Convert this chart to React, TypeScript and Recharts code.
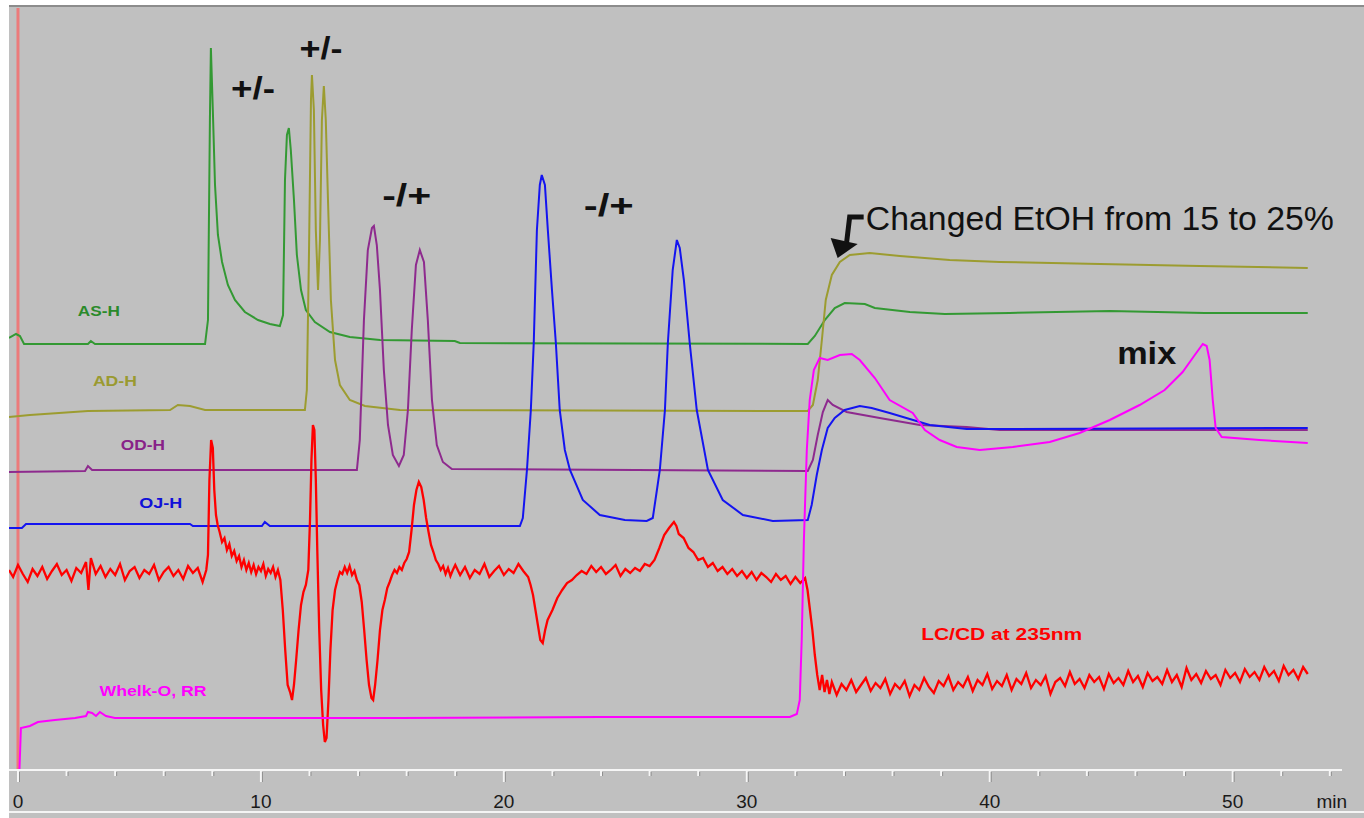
import React from 'react';
import { LineChart, Line, XAxis, YAxis, ReferenceLine, ReferenceDot } from 'recharts';

// time (min), detector response (arbitrary units)
const asH: [number, number][] = [
  [-0.37, 432], [-0.08, 436], [0.08, 434], [0.25, 426], [2.88, 426], [3.0, 429], [3.17, 426],
  [7.7, 426], [7.82, 450], [7.9, 650], [7.94, 722], [8.02, 660], [8.11, 585], [8.23, 535],
  [8.4, 508], [8.64, 485], [8.93, 470], [9.34, 458], [9.88, 450], [10.37, 446], [10.78, 444],
  [10.91, 455], [10.99, 590], [11.07, 635], [11.15, 642], [11.23, 620], [11.36, 570], [11.48, 515],
  [11.65, 480], [11.85, 460], [12.22, 448], [12.84, 438], [13.66, 433], [14.9, 430], [17.98, 429],
  [18.19, 427], [32.51, 426], [32.8, 434], [33.21, 450], [33.62, 462], [34.03, 467], [34.86, 466],
  [35.27, 462], [36.71, 458], [38.15, 456], [40.82, 457], [44.94, 459], [48.85, 457], [53.09, 457],
];

const adH: [number, number][] = [
  [-0.37, 353], [0.49, 355], [2.88, 359], [6.26, 360], [6.58, 365], [7.08, 364], [7.7, 360],
  [10.37, 360], [11.81, 360], [11.89, 380], [11.98, 520], [12.06, 670], [12.1, 695], [12.18, 660],
  [12.26, 540], [12.35, 480], [12.43, 530], [12.51, 650], [12.59, 684], [12.67, 650], [12.76, 570],
  [12.88, 470], [13.05, 410], [13.25, 385], [13.66, 370], [14.28, 364], [15.72, 360], [32.51, 359],
  [32.72, 365], [32.92, 390], [33.09, 430], [33.25, 470], [33.5, 495], [33.83, 508], [34.24, 515],
  [35.06, 517], [36.3, 514], [38.35, 510], [40.41, 508], [44.53, 506], [48.64, 504], [53.09, 502],
];

const odH: [number, number][] = [
  [-0.37, 298], [2.76, 299], [2.88, 304], [3.05, 300], [5.43, 300], [11.6, 300], [13.95, 300],
  [14.07, 330], [14.24, 450], [14.4, 520], [14.57, 542], [14.65, 544], [14.77, 525], [14.9, 480],
  [15.06, 400], [15.23, 345], [15.43, 315], [15.68, 304], [15.88, 315], [16.05, 360], [16.21, 440],
  [16.38, 505], [16.54, 520], [16.71, 508], [16.87, 450], [17.04, 370], [17.24, 325], [17.49, 308],
  [17.86, 301], [32.51, 299], [32.72, 310], [32.92, 335], [33.13, 358], [33.33, 370], [33.54, 365],
  [34.11, 358], [35.47, 352], [37.12, 345], [39.05, 343], [40.41, 340], [53.09, 340],
];

const ojH: [number, number][] = [
  [-0.37, 242], [0.16, 242], [0.33, 246], [7.08, 246], [7.2, 244], [10.04, 244], [10.16, 248],
  [10.37, 244], [20.66, 244], [20.78, 252], [20.95, 300], [21.11, 360], [21.23, 427], [21.36, 540],
  [21.48, 585], [21.56, 595], [21.69, 585], [21.81, 540], [21.98, 480], [22.14, 427], [22.3, 360],
  [22.51, 320], [22.72, 300], [23.25, 270], [23.95, 255], [24.98, 250], [25.88, 249], [26.13, 252],
  [26.3, 280], [26.42, 300], [26.63, 360], [26.75, 427], [26.95, 500], [27.12, 530], [27.24, 522],
  [27.41, 490], [27.65, 427], [27.94, 360], [28.4, 300], [29.01, 270], [29.84, 255], [31.07, 249],
  [32.51, 250], [32.67, 265], [32.88, 295], [33.09, 320], [33.33, 342], [33.62, 352], [34.03, 360],
  [34.65, 364], [35.14, 362], [35.88, 357], [37.53, 345], [39.05, 341], [40.41, 341], [53.09, 342],
];

const whelkO: [number, number][] = [
  [0.06, 0], [0.12, 42], [0.49, 44], [0.82, 48], [1.52, 50], [2.35, 52], [2.8, 54], [2.88, 58],
  [3.05, 57], [3.21, 54], [3.37, 58], [3.62, 54], [3.99, 52], [7.49, 52], [15.72, 52], [23.95, 53],
  [31.77, 53], [32.06, 56], [32.18, 70], [32.26, 130], [32.35, 230], [32.47, 320], [32.59, 370],
  [32.76, 400], [33.0, 412], [33.33, 410], [33.83, 415], [34.32, 416], [34.65, 410], [35.27, 392],
  [35.88, 370], [36.83, 357], [37.33, 340], [37.94, 330], [38.64, 323], [39.59, 320], [40.95, 323],
  [42.47, 328], [43.7, 337], [44.94, 350], [46.17, 365], [47.2, 380], [47.94, 398], [48.44, 415],
  [48.77, 426], [48.93, 424], [49.05, 410], [49.18, 370], [49.3, 342], [49.55, 333], [51.11, 330],
  [53.09, 327],
];

const lccd: [number, number][] = [
  [-0.37, 200], [-0.2, 193], [0.0, 205], [0.2, 196], [0.4, 188], [0.6, 201], [0.8, 194], [1.0, 203],
  [1.2, 191], [1.4, 199], [1.6, 206], [1.8, 195], [2.0, 200], [2.2, 189], [2.4, 202], [2.6, 197],
  [2.8, 208], [2.9, 180], [3.0, 212], [3.2, 196], [3.4, 204], [3.6, 193], [3.8, 201], [4.0, 195],
  [4.2, 206], [4.4, 190], [4.6, 199], [4.8, 203], [5.0, 192], [5.2, 200], [5.4, 196], [5.6, 205],
  [5.8, 190], [6.0, 198], [6.2, 203], [6.4, 194], [6.6, 200], [6.8, 191], [7.0, 204], [7.2, 197],
  [7.4, 202], [7.6, 188], [7.75, 200], [7.82, 215], [7.88, 290], [7.95, 330], [8.02, 322],
  [8.08, 280], [8.15, 255], [8.22, 245], [8.3, 238], [8.4, 228], [8.5, 232], [8.6, 220], [8.7, 226],
  [8.8, 214], [8.9, 219], [9.0, 209], [9.1, 214], [9.2, 203], [9.3, 210], [9.4, 200], [9.5, 207],
  [9.6, 198], [9.7, 205], [9.8, 196], [9.9, 203], [10.0, 199], [10.1, 206], [10.2, 194], [10.3, 201],
  [10.4, 197], [10.5, 203], [10.6, 193], [10.7, 200], [10.8, 190], [10.9, 160], [11.0, 120],
  [11.1, 85], [11.2, 78], [11.28, 70], [11.36, 85], [11.45, 110], [11.55, 140], [11.65, 165],
  [11.75, 178], [11.85, 185], [11.95, 200], [12.02, 250], [12.08, 310], [12.14, 345], [12.2, 340],
  [12.26, 290], [12.32, 220], [12.4, 140], [12.48, 80], [12.56, 45], [12.63, 28], [12.7, 32],
  [12.78, 70], [12.86, 120], [12.95, 160], [13.05, 180], [13.15, 190], [13.25, 198], [13.35, 196],
  [13.45, 203], [13.55, 197], [13.65, 204], [13.75, 195], [13.85, 199], [13.95, 190], [14.05, 185],
  [14.15, 168], [14.25, 140], [14.35, 110], [14.45, 85], [14.55, 72], [14.62, 70], [14.7, 85],
  [14.8, 110], [14.9, 140], [15.0, 160], [15.1, 170], [15.2, 182], [15.3, 188], [15.4, 195],
  [15.5, 200], [15.6, 197], [15.7, 203], [15.8, 200], [15.9, 207], [16.0, 211], [16.1, 218],
  [16.2, 240], [16.3, 265], [16.4, 280], [16.5, 288], [16.6, 283], [16.7, 270], [16.8, 252],
  [16.9, 238], [17.0, 225], [17.1, 218], [17.2, 210], [17.3, 206], [17.4, 200], [17.5, 204],
  [17.6, 196], [17.7, 202], [17.8, 194], [17.9, 200], [18.0, 205], [18.2, 195], [18.4, 203],
  [18.6, 192], [18.8, 200], [19.0, 196], [19.2, 206], [19.4, 193], [19.6, 199], [19.8, 204],
  [20.0, 195], [20.2, 201], [20.4, 197], [20.6, 206], [20.8, 199], [21.0, 193], [21.1, 185],
  [21.2, 175], [21.3, 160], [21.4, 145], [21.5, 130], [21.6, 127], [21.7, 140], [21.8, 150],
  [21.9, 155], [22.0, 160], [22.1, 166], [22.2, 172], [22.3, 176], [22.4, 180], [22.6, 187],
  [22.8, 190], [23.0, 195], [23.2, 199], [23.4, 196], [23.6, 204], [23.8, 198], [24.0, 203],
  [24.2, 196], [24.4, 200], [24.6, 205], [24.8, 194], [25.0, 201], [25.2, 197], [25.4, 202],
  [25.6, 199], [25.8, 206], [26.0, 204], [26.2, 210], [26.4, 222], [26.6, 235], [26.8, 242],
  [27.0, 248], [27.1, 244], [27.2, 236], [27.4, 232], [27.6, 222], [27.8, 218], [28.0, 210],
  [28.2, 212], [28.4, 203], [28.6, 207], [28.8, 199], [29.0, 203], [29.2, 196], [29.4, 201],
  [29.6, 194], [29.8, 199], [30.0, 192], [30.2, 198], [30.4, 190], [30.6, 197], [30.8, 193],
  [31.0, 188], [31.2, 196], [31.4, 190], [31.6, 194], [31.8, 186], [32.0, 193], [32.2, 187],
  [32.4, 192], [32.5, 180], [32.6, 160], [32.7, 140], [32.8, 115], [32.9, 95], [33.0, 80],
  [33.1, 95], [33.2, 78], [33.3, 90], [33.4, 76], [33.5, 88], [33.7, 75], [33.9, 86], [34.1, 80],
  [34.3, 90], [34.5, 78], [34.7, 85], [34.9, 92], [35.1, 79], [35.3, 87], [35.5, 82], [35.7, 91],
  [35.9, 76], [36.1, 86], [36.3, 81], [36.5, 89], [36.7, 74], [36.9, 85], [37.1, 80], [37.3, 92],
  [37.5, 83], [37.7, 77], [37.9, 89], [38.1, 84], [38.3, 94], [38.5, 80], [38.7, 88], [38.9, 83],
  [39.1, 93], [39.3, 79], [39.5, 90], [39.7, 85], [39.9, 96], [40.1, 81], [40.3, 89], [40.5, 84],
  [40.7, 95], [40.9, 80], [41.1, 91], [41.3, 86], [41.5, 97], [41.7, 82], [41.9, 90], [42.1, 85],
  [42.3, 94], [42.5, 76], [42.7, 88], [42.9, 92], [43.1, 84], [43.3, 98], [43.5, 86], [43.7, 91],
  [43.9, 82], [44.1, 95], [44.3, 88], [44.5, 93], [44.7, 81], [44.9, 96], [45.1, 87], [45.3, 92],
  [45.5, 85], [45.7, 99], [45.9, 88], [46.1, 94], [46.3, 83], [46.5, 97], [46.7, 89], [46.9, 93],
  [47.1, 86], [47.3, 100], [47.5, 88], [47.7, 95], [47.9, 83], [48.1, 102], [48.3, 90], [48.5, 96],
  [48.7, 87], [48.9, 99], [49.1, 91], [49.3, 95], [49.5, 85], [49.7, 100], [49.9, 92], [50.1, 97],
  [50.3, 88], [50.5, 101], [50.7, 93], [50.9, 98], [51.1, 90], [51.3, 103], [51.5, 94], [51.7, 99],
  [51.9, 89], [52.1, 104], [52.3, 95], [52.5, 100], [52.7, 91], [52.9, 103], [53.09, 96],
];

const xTicks = [0, 2, 4, 6, 8, 10, 12, 14, 16, 18, 20, 22, 24, 26, 28, 30, 32, 34, 36, 38, 40, 42, 44, 46, 48, 50, 52, 54];
const majorTicks = [0, 10, 20, 30, 40, 50];
const unitTick = 54;

const toPts = (arr: [number, number][]) => arr.map(([t, v]) => ({ t, v }));

const FONT = '"Liberation Sans", Arial, sans-serif';

const AxisTick = (props: any) => {
  const { x, y, payload } = props;
  const val = payload.value;
  const major = majorTicks.includes(val);
  const len = major ? 12 : 6;
  return (
    <g>
      <line x1={x} y1={y} x2={x} y2={y + len} stroke="#f6f6f6" strokeWidth={2} />
      <line x1={x + 1.5} y1={y + 2} x2={x + 1.5} y2={y + len} stroke="#8e8e8e" strokeWidth={1} />
      {major && (
        <text x={x} y={y + 38} textAnchor="middle" fontSize={19} fill="#1a1a1a" fontFamily={FONT}>
          {val}
        </text>
      )}
      {val === unitTick && (
        <text x={x + 2} y={y + 38} textAnchor="middle" fontSize={19} fill="#1a1a1a" fontFamily={FONT}>
          min
        </text>
      )}
    </g>
  );
};

const textShape = (text: string, opts: { size: number; color: string; bold?: boolean; anchor?: string; len?: number }) =>
  (p: any) => (
    <text
      x={p.cx}
      y={p.cy}
      textAnchor={opts.anchor || 'middle'}
      dominantBaseline="central"
      fontSize={opts.size}
      fontWeight={opts.bold ? 'bold' : 'normal'}
      fill={opts.color}
      fontFamily={FONT}
      {...(opts.len ? { textLength: opts.len, lengthAdjust: 'spacingAndGlyphs' } : {})}
    >
      {text}
    </text>
  );

const arrowShape = (p: any) => {
  const { cx, cy } = p;
  return (
    <g>
      <path
        d={`M ${cx + 26} ${cy - 41} L ${cx + 12} ${cy - 41} L ${cx + 9} ${cy - 16}`}
        fill="none"
        stroke="#111"
        strokeWidth={5}
      />
      <path d={`M ${cx - 7} ${cy - 20} L ${cx + 20} ${cy - 14} L ${cx} ${cy} Z`} fill="#111" />
    </g>
  );
};

export default function App() {
  return (
    <div style={{ position: 'absolute', left: 0, top: 0, width: 1364, height: 818, background: '#ffffff', overflow: 'hidden' }}>
      <div style={{ position: 'absolute', left: 9, top: 5, width: 1355, height: 813, background: '#c0c0c0', borderTop: '2px solid #8c8c8c', boxSizing: 'border-box' }} />
      <div style={{ position: 'absolute', left: 9, top: 811, width: 1355, height: 2, background: '#f4f4f4' }} />
      <div style={{ position: 'absolute', left: 0, top: 0 }}>
        <LineChart width={1364} height={818} margin={{ top: 8, right: 22, left: 9, bottom: 0 }}>
          <XAxis
            dataKey="t"
            type="number"
            domain={[-0.37, 54.5]}
            allowDataOverflow
            ticks={xTicks}
            interval={0}
            height={48}
            tickSize={0}
            tickMargin={0}
            tickLine={false}
            axisLine={{ stroke: '#f6f6f6', strokeWidth: 2 }}
            tick={<AxisTick />}
          />
          <YAxis type="number" domain={[0, 762]} hide allowDataOverflow />
          <ReferenceLine x={0} stroke="#ec7a7a" strokeWidth={3} />
          <Line data={toPts(asH)} dataKey="v" stroke="#339933" strokeWidth={2} dot={false} isAnimationActive={false} />
          <Line data={toPts(adH)} dataKey="v" stroke="#9c9c30" strokeWidth={2} dot={false} isAnimationActive={false} />
          <Line data={toPts(odH)} dataKey="v" stroke="#8e2a8e" strokeWidth={2} dot={false} isAnimationActive={false} />
          <Line data={toPts(ojH)} dataKey="v" stroke="#1414f0" strokeWidth={2} dot={false} isAnimationActive={false} />
          <Line data={toPts(lccd)} dataKey="v" stroke="#ff0000" strokeWidth={2.3} dot={false} isAnimationActive={false} />
          <Line data={toPts(whelkO)} dataKey="v" stroke="#ff00ff" strokeWidth={2} dot={false} isAnimationActive={false} />

          <ReferenceDot x={9.67} y={682} r={0} shape={textShape('+/-', { size: 32, color: '#111', bold: true, len: 44 })} />
          <ReferenceDot x={12.47} y={722} r={0} shape={textShape('+/-', { size: 32, color: '#111', bold: true, len: 43 })} />
          <ReferenceDot x={16.0} y={575} r={0} shape={textShape('-/+', { size: 32, color: '#111', bold: true, len: 49 })} />
          <ReferenceDot x={24.32} y={565} r={0} shape={textShape('-/+', { size: 32, color: '#111', bold: true, len: 50 })} />
          <ReferenceDot x={46.46} y={417} r={0} shape={textShape('mix', { size: 32, color: '#111', bold: true, len: 59 })} />
          <ReferenceDot x={34.9} y={552} r={0} shape={textShape('Changed EtOH from 15 to 25%', { size: 33, color: '#111', anchor: 'start', len: 468 })} />
          <ReferenceDot x={33.74} y={512} r={0} shape={arrowShape} />

          <ReferenceDot x={3.33} y={459} r={0} shape={textShape('AS-H', { size: 14, color: '#2a8a2a', bold: true, len: 42 })} />
          <ReferenceDot x={3.99} y={389} r={0} shape={textShape('AD-H', { size: 14, color: '#9a9a30', bold: true, len: 44 })} />
          <ReferenceDot x={5.14} y={325} r={0} shape={textShape('OD-H', { size: 14, color: '#882288', bold: true, len: 44 })} />
          <ReferenceDot x={5.88} y={267} r={0} shape={textShape('OJ-H', { size: 14, color: '#1010d8', bold: true, len: 43 })} />
          <ReferenceDot x={5.56} y={79} r={0} shape={textShape('Whelk-O, RR', { size: 14, color: '#ff00ff', bold: true, len: 107 })} />
          <ReferenceDot x={40.49} y={136} r={0} shape={textShape('LC/CD at 235nm', { size: 17, color: '#ff0000', bold: true, len: 161 })} />
        </LineChart>
      </div>
    </div>
  );
}
